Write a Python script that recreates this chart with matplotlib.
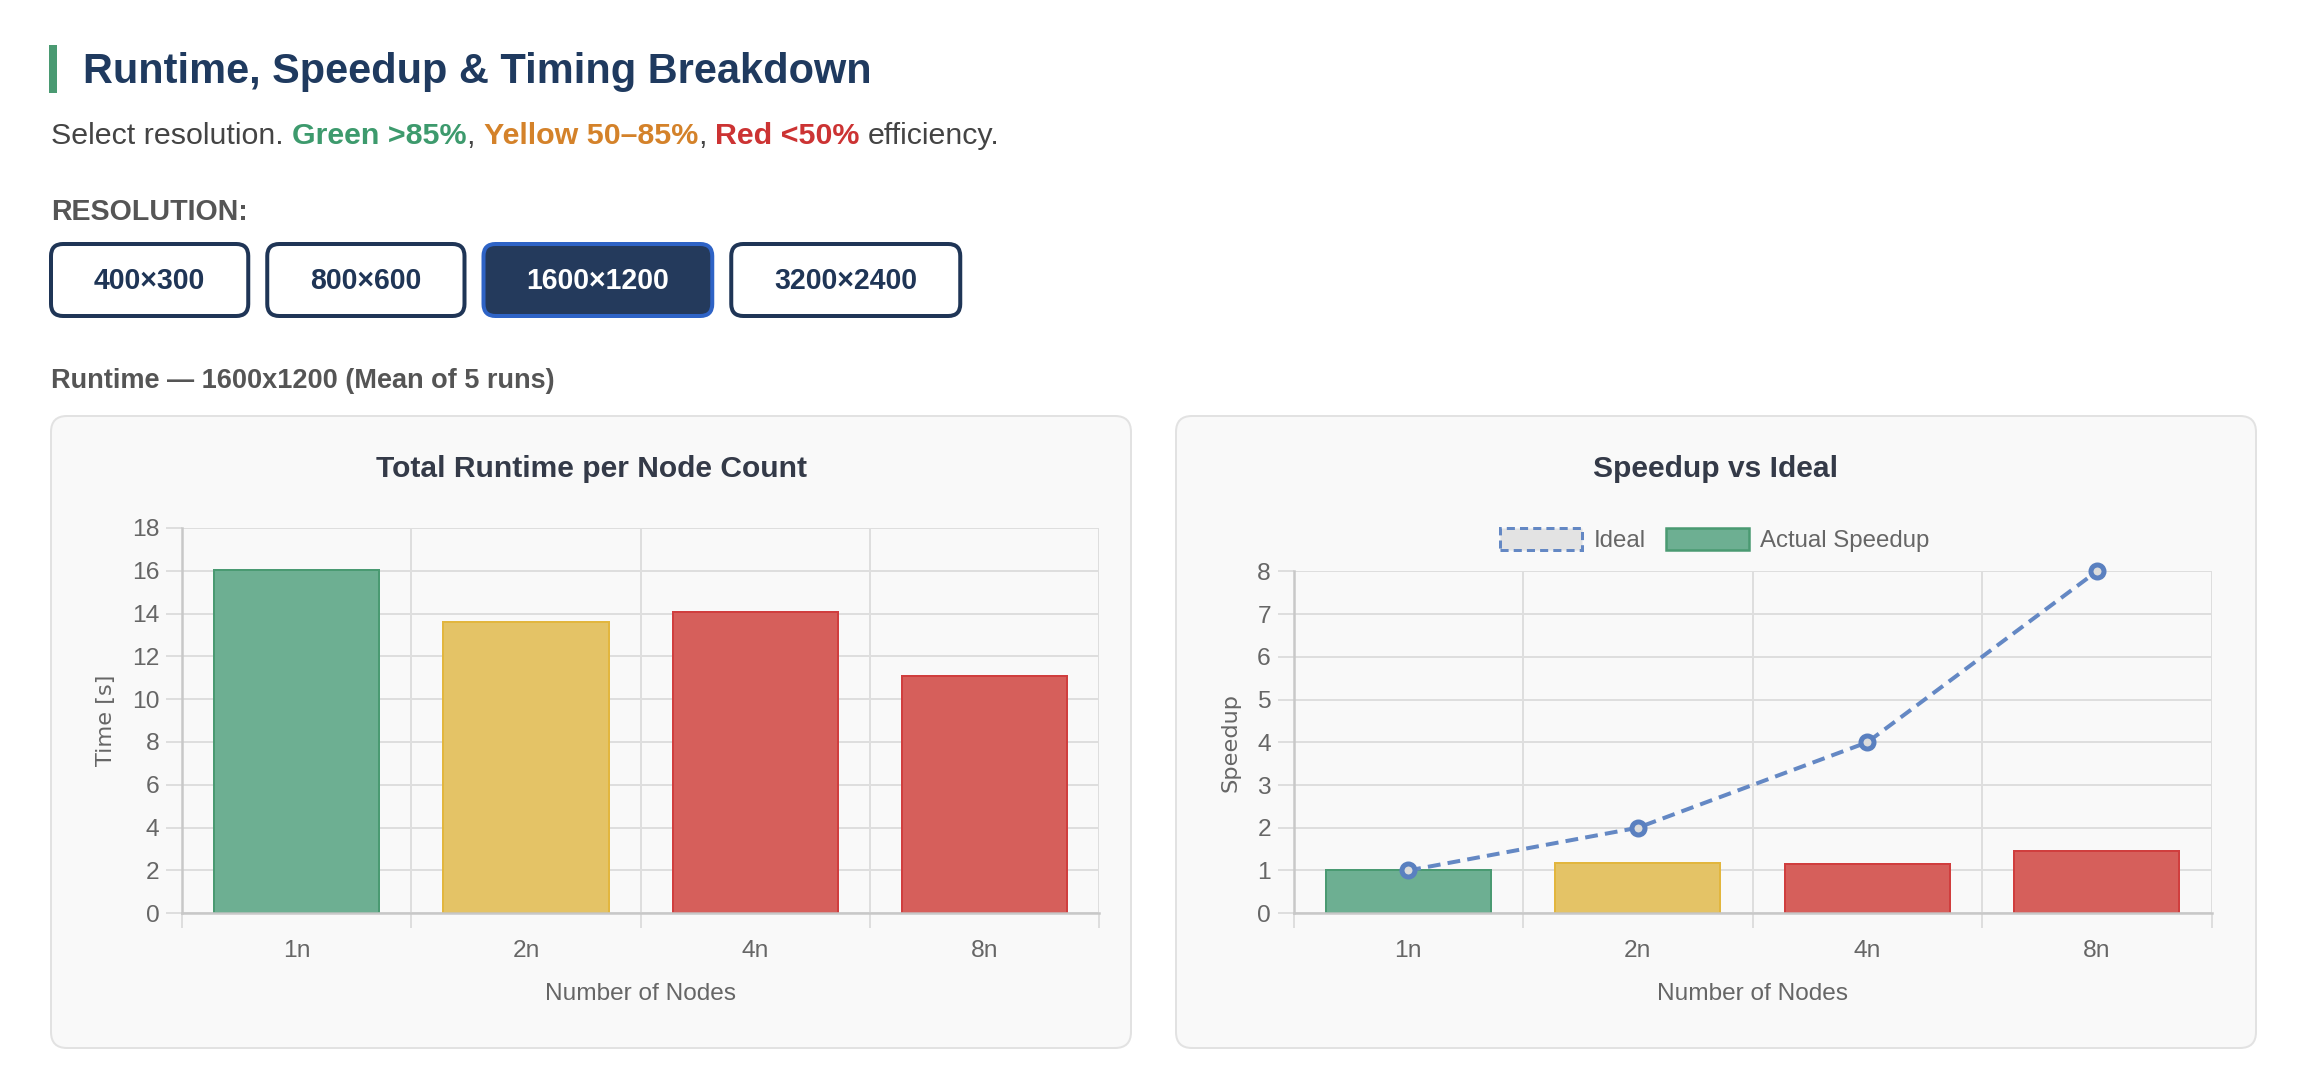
import matplotlib
matplotlib.use('Agg')
import matplotlib.pyplot as plt
from matplotlib.patches import FancyBboxPatch, Rectangle, Patch
from matplotlib.transforms import Affine2D
import numpy as np

W, H, DPI = 2314, 1074, 100

# ---------------- data ----------------
nodes = ['1n', '2n', '4n', '8n']
runtime_s = [16.02, 13.60, 14.06, 11.08]
speedup_actual = [1.00, 1.18, 1.14, 1.45]
speedup_ideal = [1, 2, 4, 8]
efficiency_band = ['green', 'yellow', 'red', 'red']
resolutions = ['400×300', '800×600', '1600×1200', '3200×2400']
active_resolution = '1600×1200'
runtime_yticks = list(range(0, 19, 2))
speedup_yticks = list(range(0, 9))

# ---------------- style ----------------
FILL = {'green': '#6daf92', 'yellow': '#e4c366', 'red': '#d65f5b'}
EDGE = {'green': '#4a9a72', 'yellow': '#e2b63e', 'red': '#d03e3e'}
NAVY = '#1f3556'
GRID = '#dedede'
AXIS = '#c8c8c8'
TICK = '#666666'
BLUE = '#6488c4'

plt.rcParams['font.family'] = ['Liberation Sans', 'DejaVu Sans']

fig = plt.figure(figsize=(W / DPI, H / DPI), dpi=DPI)
fig.patch.set_facecolor('white')
PX = Affine2D().scale(1 / DPI, -1 / DPI).translate(0, H / DPI) + fig.dpi_scale_trans


def pt(p):
    return p * 72.0 / DPI


def ftext(x, y, s, size, **kw):
    return fig.text(x, y, s, transform=PX, fontsize=pt(size), **kw)


renderer = fig.canvas.get_renderer()


def width_of(s, size, weight='normal'):
    t = fig.text(0, 0, s, fontsize=pt(size), weight=weight)
    w = t.get_window_extent(renderer).width
    t.remove()
    return w


# ---------------- header ----------------
fig.add_artist(Rectangle((49, 45), 8, 48, transform=PX, facecolor='#4a9a72', edgecolor='none'))
ftext(83, 83, 'Runtime, Speedup & Timing Breakdown', 41.5, weight='bold', color='#1f3a5f', va='baseline')

pieces = [('Select resolution.', '#444444', 'normal'), (' ', None, 'normal'),
          ('Green >85%', '#3d9a6d', 'bold'), (',', '#444444', 'normal'), (' ', None, 'normal'),
          ('Yellow 50–85%', '#d4822a', 'bold'), (',', '#444444', 'normal'), (' ', None, 'normal'),
          ('Red <50%', '#cc3333', 'bold'), (' ', None, 'normal'), ('efficiency.', '#444444', 'normal')]
SUB = 30.4
space_w = width_of('x x', SUB) - width_of('xx', SUB)
x = 51
for s, c, w in pieces:
    if s == ' ':
        x += space_w
        continue
    t = ftext(x, 144.5, s, SUB, color=c, weight=w, va='baseline')
    x += t.get_window_extent(renderer).width

ftext(51, 219.7, 'RESOLUTION:', 28.6, weight='bold', color='#555555', va='baseline')

BTN = 28.5
bx = 51
for r in resolutions:
    bw = width_of(r, BTN, 'bold') + 86
    active = (r == active_resolution)
    fig.add_artist(FancyBboxPatch((bx, 244), bw, 72, boxstyle='round,pad=0,rounding_size=12',
                                  transform=PX, facecolor='#243a5c' if active else 'white',
                                  edgecolor='#2e63c6' if active else NAVY, linewidth=pt(4)))
    ftext(bx + bw / 2, 289.3, r, BTN, weight='bold', color='white' if active else NAVY,
          ha='center', va='baseline')
    bx += bw + 19

ftext(51, 388, 'Runtime — %s (Mean of 5 runs)' % active_resolution.replace('×', 'x'), 27.1,
      weight='bold', color='#555555', va='baseline')

# ---------------- panels ----------------
for px0 in (51, 1176):
    fig.add_artist(FancyBboxPatch((px0, 416), 1080, 632, boxstyle='round,pad=0,rounding_size=16',
                                  transform=PX, facecolor='#f9f9f9', edgecolor='#e2e2e2',
                                  linewidth=pt(2), zorder=0))


def make_axes(x0, x1, ytop, ybot):
    return fig.add_axes([x0 / W, 1 - ybot / H, (x1 - x0) / W, (ybot - ytop) / H])


def style_axes(ax, yticks, ylabel, ylabel_x, x0, x1, ytop, ybot):
    ax.set_facecolor('none')
    ax.set_xlim(-0.5, len(nodes) - 0.5)
    ax.set_ylim(yticks[0], yticks[-1])
    ax.set_yticks(yticks)
    ax.set_xticks(range(len(nodes)))
    ax.set_xticklabels(nodes)
    ax.set_xticks(np.arange(-0.5, len(nodes), 1), minor=True)
    ax.tick_params(axis='x', which='major', length=0, pad=pt(26.5), labelsize=pt(24.5), labelcolor=TICK)
    ax.tick_params(axis='x', which='minor', length=pt(15), width=pt(2), color=GRID)
    ax.tick_params(axis='y', which='major', length=pt(16), width=pt(2), color=GRID, pad=pt(6.6),
                   labelsize=pt(24.5), labelcolor=TICK)
    ax.grid(axis='y', which='major', color=GRID, lw=pt(2))
    ax.grid(axis='x', which='minor', color=GRID, lw=pt(2))
    ax.set_axisbelow(True)
    for s in ('top', 'right'):
        ax.spines[s].set_visible(False)
    for s in ('left', 'bottom'):
        ax.spines[s].set_color(AXIS)
        ax.spines[s].set_linewidth(pt(2.5))
    ax.set_xlabel('Number of Nodes', fontsize=pt(24.4), color=TICK)
    ax.xaxis.label.set_va('baseline')
    ax.xaxis.set_label_coords(0.5, -(1000 - ybot) / (ybot - ytop))
    ax.set_ylabel(ylabel, fontsize=pt(22.5), color=TICK, family='DejaVu Sans')
    ax.yaxis.label.set_va('center')
    ax.yaxis.set_label_coords((ylabel_x - x0) / (x1 - x0), 0.5)


# ---------------- left chart ----------------
L = (182, 1099.5, 528, 913.2)
ax1 = make_axes(*L)
style_axes(ax1, runtime_yticks, 'Time [s]', 106, *L)
ax1.bar(range(len(nodes)), runtime_s, width=0.72,
        color=[FILL[b] for b in efficiency_band], edgecolor=[EDGE[b] for b in efficiency_band],
        linewidth=pt(2), zorder=2)
ftext(591.6, 477, 'Total Runtime per Node Count', 30, weight='bold', color='#343a48',
      ha='center', va='baseline')

# ---------------- right chart ----------------
R = (1293.5, 2211.5, 571.4, 913.2)
ax2 = make_axes(*R)
style_axes(ax2, speedup_yticks, 'Speedup', 1230, *R)
ax2.bar(range(len(nodes)), speedup_actual, width=0.72,
        color=[FILL[b] for b in efficiency_band], edgecolor=[EDGE[b] for b in efficiency_band],
        linewidth=pt(2), zorder=2)
ax2.plot(range(len(nodes)), speedup_ideal, color=BLUE, lw=pt(4), ls=(0, (3.2, 1.8)),
         marker='o', ms=pt(13), mfc='#dcdcdc', mec='#5a80c0', mew=pt(5), clip_on=False, zorder=5)
ftext(1715.6, 477, 'Speedup vs Ideal', 30, weight='bold', color='#343a48', ha='center', va='baseline')

handles = [Patch(facecolor='#e3e3e3', edgecolor=BLUE, linestyle=(0, (2.7, 1.7)), linewidth=pt(3)),
           Patch(facecolor=FILL['green'], edgecolor=EDGE['green'], linewidth=pt(2.5))]
ax2.legend(handles, ['Ideal', 'Actual Speedup'], loc='center', bbox_to_anchor=(1714.7, 540),
           bbox_transform=PX, ncol=2, frameon=False, fontsize=pt(24), labelcolor=TICK,
           handlelength=82.3 / 24, handleheight=24.6 / 24, handletextpad=11.7 / 24,
           columnspacing=20.7 / 24, borderpad=0, borderaxespad=0)

fig.savefig('out.png', dpi=DPI, facecolor='white')
